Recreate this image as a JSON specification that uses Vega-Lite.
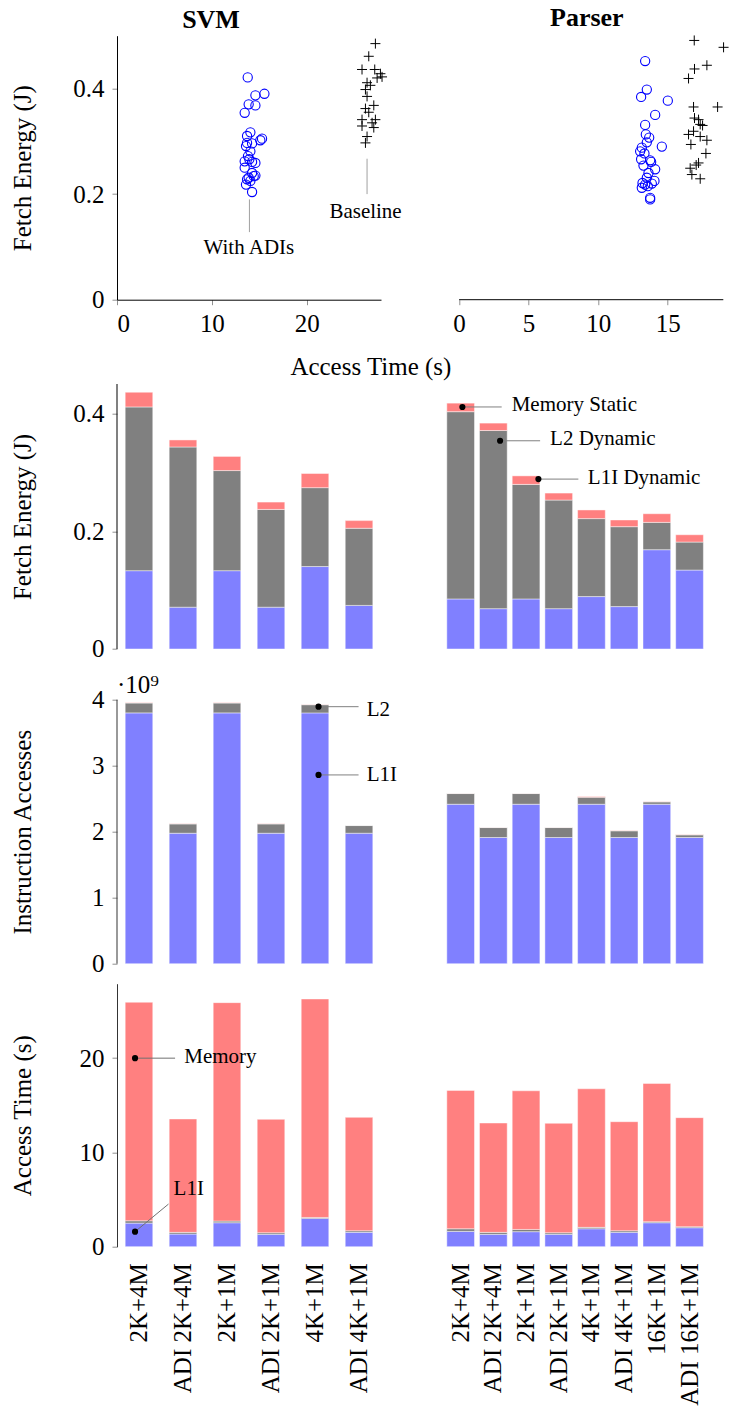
{
  "$schema": "https://vega.github.io/schema/vega-lite/v6.json",
  "padding": {"left": 10, "top": 4.7, "right": 2, "bottom": 2},
  "config": {
    "font": "Liberation Serif",
    "view": {"stroke": null},
    "axis": {"labelFont": "Liberation Serif", "titleFont": "Liberation Serif", "labelFontSize": 25, "titleFontSize": 25, "titleFontWeight": "normal", "labelColor": "#000", "titleColor": "#000", "grid": false, "tickColor": "#909090", "domainColor": "#000", "tickSize": 5},
    "axisX": {"labelPadding": 7},
    "axisY": {"minExtent": 70, "maxExtent": 70, "titlePadding": 12, "labelPadding": 8},
    "title": {"font": "Liberation Serif", "fontSize": 26, "fontWeight": "bold", "color": "#000"},
    "text": {"font": "Liberation Serif", "fontSize": 21, "color": "#000"},
    "bar": {"stroke": "#ffffff", "strokeOpacity": 0.45, "strokeWidth": 1}
  },
  "datasets": {
    "scatter": [
      {"bench":"SVM","kind":"ADI","time":13.78,"energy":0.421},{"bench":"SVM","kind":"ADI","time":13.46,"energy":0.354},{"bench":"SVM","kind":"ADI","time":13.88,"energy":0.370},{"bench":"SVM","kind":"ADI","time":14.59,"energy":0.368},{"bench":"SVM","kind":"ADI","time":14.59,"energy":0.387},{"bench":"SVM","kind":"ADI","time":15.54,"energy":0.390},{"bench":"SVM","kind":"ADI","time":14.06,"energy":0.317},{"bench":"SVM","kind":"ADI","time":13.71,"energy":0.310},{"bench":"SVM","kind":"ADI","time":15.29,"energy":0.305},{"bench":"SVM","kind":"ADI","time":15.11,"energy":0.302},{"bench":"SVM","kind":"ADI","time":13.71,"energy":0.297},{"bench":"SVM","kind":"ADI","time":14.24,"energy":0.296},{"bench":"SVM","kind":"ADI","time":13.60,"energy":0.291},{"bench":"SVM","kind":"ADI","time":14.06,"energy":0.281},{"bench":"SVM","kind":"ADI","time":13.81,"energy":0.272},{"bench":"SVM","kind":"ADI","time":13.46,"energy":0.262},{"bench":"SVM","kind":"ADI","time":13.95,"energy":0.266},{"bench":"SVM","kind":"ADI","time":14.59,"energy":0.259},{"bench":"SVM","kind":"ADI","time":14.24,"energy":0.261},{"bench":"SVM","kind":"ADI","time":13.46,"energy":0.250},{"bench":"SVM","kind":"ADI","time":14.24,"energy":0.240},{"bench":"SVM","kind":"ADI","time":14.59,"energy":0.235},{"bench":"SVM","kind":"ADI","time":13.71,"energy":0.228},{"bench":"SVM","kind":"ADI","time":14.06,"energy":0.225},{"bench":"SVM","kind":"ADI","time":13.60,"energy":0.218},{"bench":"SVM","kind":"ADI","time":14.24,"energy":0.204},{"bench":"SVM","kind":"ADI","time":14.41,"energy":0.234},{"bench":"SVM","kind":"ADI","time":13.88,"energy":0.231},
      {"bench":"SVM","kind":"Baseline","time":27.24,"energy":0.485},{"bench":"SVM","kind":"Baseline","time":26.54,"energy":0.461},{"bench":"SVM","kind":"Baseline","time":25.83,"energy":0.436},{"bench":"SVM","kind":"Baseline","time":27.17,"energy":0.436},{"bench":"SVM","kind":"Baseline","time":27.77,"energy":0.428},{"bench":"SVM","kind":"Baseline","time":27.94,"energy":0.422},{"bench":"SVM","kind":"Baseline","time":27.42,"energy":0.420},{"bench":"SVM","kind":"Baseline","time":26.36,"energy":0.411},{"bench":"SVM","kind":"Baseline","time":26.71,"energy":0.406},{"bench":"SVM","kind":"Baseline","time":26.19,"energy":0.398},{"bench":"SVM","kind":"Baseline","time":26.36,"energy":0.385},{"bench":"SVM","kind":"Baseline","time":27.07,"energy":0.368},{"bench":"SVM","kind":"Baseline","time":26.19,"energy":0.362},{"bench":"SVM","kind":"Baseline","time":26.54,"energy":0.355},{"bench":"SVM","kind":"Baseline","time":25.83,"energy":0.341},{"bench":"SVM","kind":"Baseline","time":27.24,"energy":0.341},{"bench":"SVM","kind":"Baseline","time":26.89,"energy":0.335},{"bench":"SVM","kind":"Baseline","time":25.83,"energy":0.329},{"bench":"SVM","kind":"Baseline","time":27.07,"energy":0.326},{"bench":"SVM","kind":"Baseline","time":26.36,"energy":0.309},{"bench":"SVM","kind":"Baseline","time":26.19,"energy":0.297},
      {"bench":"Parser","kind":"ADI","time":13.38,"energy":0.452},{"bench":"Parser","kind":"ADI","time":13.50,"energy":0.398},{"bench":"Parser","kind":"ADI","time":13.09,"energy":0.384},{"bench":"Parser","kind":"ADI","time":15.01,"energy":0.377},{"bench":"Parser","kind":"ADI","time":14.10,"energy":0.350},{"bench":"Parser","kind":"ADI","time":13.38,"energy":0.331},{"bench":"Parser","kind":"ADI","time":13.43,"energy":0.313},{"bench":"Parser","kind":"ADI","time":13.67,"energy":0.307},{"bench":"Parser","kind":"ADI","time":13.50,"energy":0.298},{"bench":"Parser","kind":"ADI","time":14.58,"energy":0.290},{"bench":"Parser","kind":"ADI","time":13.14,"energy":0.288},{"bench":"Parser","kind":"ADI","time":13.02,"energy":0.281},{"bench":"Parser","kind":"ADI","time":13.33,"energy":0.277},{"bench":"Parser","kind":"ADI","time":13.09,"energy":0.266},{"bench":"Parser","kind":"ADI","time":13.74,"energy":0.264},{"bench":"Parser","kind":"ADI","time":13.81,"energy":0.261},{"bench":"Parser","kind":"ADI","time":13.26,"energy":0.254},{"bench":"Parser","kind":"ADI","time":14.10,"energy":0.247},{"bench":"Parser","kind":"ADI","time":13.62,"energy":0.240},{"bench":"Parser","kind":"ADI","time":13.50,"energy":0.231},{"bench":"Parser","kind":"ADI","time":14.05,"energy":0.225},{"bench":"Parser","kind":"ADI","time":13.19,"energy":0.221},{"bench":"Parser","kind":"ADI","time":13.38,"energy":0.218},{"bench":"Parser","kind":"ADI","time":13.86,"energy":0.220},{"bench":"Parser","kind":"ADI","time":13.14,"energy":0.212},{"bench":"Parser","kind":"ADI","time":13.57,"energy":0.215},{"bench":"Parser","kind":"ADI","time":13.74,"energy":0.193},{"bench":"Parser","kind":"ADI","time":13.74,"energy":0.190},
      {"bench":"Parser","kind":"Baseline","time":16.91,"energy":0.491},{"bench":"Parser","kind":"Baseline","time":19.02,"energy":0.478},{"bench":"Parser","kind":"Baseline","time":17.82,"energy":0.444},{"bench":"Parser","kind":"Baseline","time":16.93,"energy":0.437},{"bench":"Parser","kind":"Baseline","time":16.50,"energy":0.419},{"bench":"Parser","kind":"Baseline","time":16.86,"energy":0.365},{"bench":"Parser","kind":"Baseline","time":18.59,"energy":0.365},{"bench":"Parser","kind":"Baseline","time":16.93,"energy":0.344},{"bench":"Parser","kind":"Baseline","time":17.22,"energy":0.341},{"bench":"Parser","kind":"Baseline","time":17.34,"energy":0.332},{"bench":"Parser","kind":"Baseline","time":17.51,"energy":0.330},{"bench":"Parser","kind":"Baseline","time":16.86,"energy":0.319},{"bench":"Parser","kind":"Baseline","time":16.50,"energy":0.313},{"bench":"Parser","kind":"Baseline","time":17.34,"energy":0.309},{"bench":"Parser","kind":"Baseline","time":17.82,"energy":0.302},{"bench":"Parser","kind":"Baseline","time":16.67,"energy":0.294},{"bench":"Parser","kind":"Baseline","time":17.75,"energy":0.277},{"bench":"Parser","kind":"Baseline","time":17.22,"energy":0.259},{"bench":"Parser","kind":"Baseline","time":17.05,"energy":0.255},{"bench":"Parser","kind":"Baseline","time":16.62,"energy":0.249},{"bench":"Parser","kind":"Baseline","time":16.74,"energy":0.237},{"bench":"Parser","kind":"Baseline","time":17.34,"energy":0.229}
    ],
    "energy": [
      {"bench":"SVM","config":"2K+4M","L1I":0.133,"L2":0.278,"Memory":0.025},
      {"bench":"SVM","config":"ADI 2K+4M","L1I":0.071,"L2":0.272,"Memory":0.012},
      {"bench":"SVM","config":"2K+1M","L1I":0.133,"L2":0.170,"Memory":0.024},
      {"bench":"SVM","config":"ADI 2K+1M","L1I":0.071,"L2":0.166,"Memory":0.0125},
      {"bench":"SVM","config":"4K+1M","L1I":0.140,"L2":0.134,"Memory":0.024},
      {"bench":"SVM","config":"ADI 4K+1M","L1I":0.074,"L2":0.131,"Memory":0.013},
      {"bench":"Parser","config":"2K+4M","L1I":0.085,"L2":0.318,"Memory":0.0145},
      {"bench":"Parser","config":"ADI 2K+4M","L1I":0.0685,"L2":0.3025,"Memory":0.0126},
      {"bench":"Parser","config":"2K+1M","L1I":0.085,"L2":0.1945,"Memory":0.0145},
      {"bench":"Parser","config":"ADI 2K+1M","L1I":0.0685,"L2":0.1844,"Memory":0.0119},
      {"bench":"Parser","config":"4K+1M","L1I":0.089,"L2":0.1324,"Memory":0.0147},
      {"bench":"Parser","config":"ADI 4K+1M","L1I":0.072,"L2":0.1357,"Memory":0.0114},
      {"bench":"Parser","config":"16K+1M","L1I":0.1686,"L2":0.0464,"Memory":0.0147},
      {"bench":"Parser","config":"ADI 16K+1M","L1I":0.134,"L2":0.0476,"Memory":0.0124}
    ],
    "accesses": [
      {"bench":"SVM","config":"2K+4M","L1I":3800000000,"L2":150000000,"Memory":5000000},
      {"bench":"SVM","config":"ADI 2K+4M","L1I":1977000000,"L2":141000000,"Memory":4000000},
      {"bench":"SVM","config":"2K+1M","L1I":3800000000,"L2":150000000,"Memory":5000000},
      {"bench":"SVM","config":"ADI 2K+1M","L1I":1977000000,"L2":141000000,"Memory":4000000},
      {"bench":"SVM","config":"4K+1M","L1I":3800000000,"L2":124000000,"Memory":3000000},
      {"bench":"SVM","config":"ADI 4K+1M","L1I":1977000000,"L2":116000000,"Memory":2000000},
      {"bench":"Parser","config":"2K+4M","L1I":2416000000,"L2":162000000,"Memory":2000000},
      {"bench":"Parser","config":"ADI 2K+4M","L1I":1912000000,"L2":151000000,"Memory":2000000},
      {"bench":"Parser","config":"2K+1M","L1I":2416000000,"L2":162000000,"Memory":2000000},
      {"bench":"Parser","config":"ADI 2K+1M","L1I":1912000000,"L2":151000000,"Memory":2000000},
      {"bench":"Parser","config":"4K+1M","L1I":2416000000,"L2":106000000,"Memory":10000000},
      {"bench":"Parser","config":"ADI 4K+1M","L1I":1912000000,"L2":101000000,"Memory":5000000},
      {"bench":"Parser","config":"16K+1M","L1I":2416000000,"L2":36000000,"Memory":4000000},
      {"bench":"Parser","config":"ADI 16K+1M","L1I":1912000000,"L2":40000000,"Memory":5000000}
    ],
    "time": [
      {"bench":"SVM","config":"2K+4M","L1I":2.50,"L2":0.25,"Memory":23.18},
      {"bench":"SVM","config":"ADI 2K+4M","L1I":1.34,"L2":0.18,"Memory":12.03},
      {"bench":"SVM","config":"2K+1M","L1I":2.54,"L2":0.18,"Memory":23.17},
      {"bench":"SVM","config":"ADI 2K+1M","L1I":1.31,"L2":0.17,"Memory":12.03},
      {"bench":"SVM","config":"4K+1M","L1I":3.00,"L2":0.10,"Memory":23.18},
      {"bench":"SVM","config":"ADI 4K+1M","L1I":1.52,"L2":0.17,"Memory":12.03},
      {"bench":"Parser","config":"2K+4M","L1I":1.62,"L2":0.28,"Memory":14.68},
      {"bench":"Parser","config":"ADI 2K+4M","L1I":1.31,"L2":0.21,"Memory":11.60},
      {"bench":"Parser","config":"2K+1M","L1I":1.59,"L2":0.24,"Memory":14.71},
      {"bench":"Parser","config":"ADI 2K+1M","L1I":1.31,"L2":0.17,"Memory":11.61},
      {"bench":"Parser","config":"4K+1M","L1I":1.90,"L2":0.15,"Memory":14.70},
      {"bench":"Parser","config":"ADI 4K+1M","L1I":1.52,"L2":0.17,"Memory":11.57},
      {"bench":"Parser","config":"16K+1M","L1I":2.54,"L2":0.11,"Memory":14.67},
      {"bench":"Parser","config":"ADI 16K+1M","L1I":2.01,"L2":0.11,"Memory":11.57}
    ],
    "notes": [
      {"panel":"scatter-SVM","x":13.96,"y":0.19,"x2":13.96,"y2":0.128,"tx":13.9,"ty":0.0985,"label":"With ADIs"},
      {"panel":"scatter-SVM","x":26.36,"y":0.267,"x2":26.36,"y2":0.2,"tx":26.2,"ty":0.1667,"label":"Baseline"},
      {"panel":"energy-Parser","x":0.553,"y":0.411,"x2":1.755,"y2":0.411,"tx":2.06,"ty":0.414,"label":"Memory Static"},
      {"panel":"energy-Parser","x":1.706,"y":0.3536,"x2":2.93,"y2":0.3536,"tx":3.235,"ty":0.356,"label":"L2 Dynamic"},
      {"panel":"energy-Parser","x":2.878,"y":0.2885,"x2":4.10,"y2":0.2885,"tx":4.39,"ty":0.291,"label":"L1I Dynamic"},
      {"panel":"acc-SVM","x":4.58,"y":3894000000,"x2":5.49,"y2":3894000000,"tx":5.675,"ty":3850000000,"label":"L2"},
      {"panel":"acc-SVM","x":4.58,"y":2860000000,"x2":5.49,"y2":2860000000,"tx":5.675,"ty":2860000000,"label":"L1I"},
      {"panel":"time-SVM","x":0.41,"y":20.0,"x2":1.32,"y2":20.0,"tx":1.53,"ty":20.1,"label":"Memory"},
      {"panel":"time-SVM","x":0.41,"y":1.59,"x2":1.17,"y2":4.52,"tx":1.286,"ty":6.1,"label":"L1I"}
    ]
  },
  "columns": 2,
  "spacing": {"row": 20, "column": 63.3},
  "bounds": "flush",
  "align": "each",
  "concat": [
    {
      "width": 264, "height": 264,
      "title": {"text": "SVM", "frame": "group", "dx": -38, "baseline": "alphabetic", "offset": -18.7},
      "layer": [
        {"data": {"name": "scatter"}, "transform": [{"filter": "datum.bench == 'SVM' && datum.kind == 'ADI'"}],
         "mark": {"type": "point", "shape": "circle", "filled": false, "stroke": "#0000ff", "strokeWidth": 1.1, "size": 85, "opacity": 1},
         "encoding": {
           "x": {"field": "time", "type": "quantitative", "scale": {"domain": [0, 27.83], "nice": false, "zero": false}, "axis": {"values": [0, 10, 20], "title": "Access Time (s)", "titleX": 253.4, "titleY": 75, "titleBaseline": "alphabetic", "titleAlign": "center"}},
           "y": {"field": "energy", "type": "quantitative", "scale": {"domain": [0, 0.5], "nice": false}, "axis": {"values": [0, 0.2, 0.4], "title": "Fetch Energy (J)", "labelExpr": "datum.value == 0 ? '0' : format(datum.value, '.1f')"}}
         }},
        {"data": {"name": "scatter"}, "transform": [{"filter": "datum.bench == 'SVM' && datum.kind == 'Baseline'"}],
         "mark": {"type": "point", "shape": "M-1,0H1M0,-1V1", "filled": false, "stroke": "#000", "strokeWidth": 1, "size": 100, "opacity": 1},
         "encoding": {
           "x": {"field": "time", "type": "quantitative", "scale": {"domain": [0, 27.83], "nice": false, "zero": false}},
           "y": {"field": "energy", "type": "quantitative", "scale": {"domain": [0, 0.5], "nice": false}}
         }},
        {"data": {"name": "notes"}, "transform": [{"filter": "datum.panel == 'scatter-SVM'"}],
         "mark": {"type": "rule", "color": "#a0a0a0", "strokeWidth": 1},
         "encoding": {
           "x": {"field": "x", "type": "quantitative", "scale": {"domain": [0, 27.83], "nice": false, "zero": false}},
           "y": {"field": "y", "type": "quantitative", "scale": {"domain": [0, 0.5], "nice": false}},
           "y2": {"field": "y2"}
         }},
        {"data": {"name": "notes"}, "transform": [{"filter": "datum.panel == 'scatter-SVM'"}],
         "mark": {"type": "text", "align": "center", "baseline": "middle", "fontSize": 21},
         "encoding": {
           "x": {"field": "tx", "type": "quantitative", "scale": {"domain": [0, 27.83], "nice": false, "zero": false}},
           "y": {"field": "ty", "type": "quantitative", "scale": {"domain": [0, 0.5], "nice": false}},
           "text": {"field": "label"}
         }}
      ]
    },
    {
      "width": 279, "height": 264,
      "title": {"text": "Parser", "frame": "group", "dx": 3, "baseline": "alphabetic", "offset": -18.7},
      "layer": [
        {"data": {"name": "scatter"}, "transform": [{"filter": "datum.bench == 'Parser' && datum.kind == 'ADI'"}],
         "mark": {"type": "point", "shape": "circle", "filled": false, "stroke": "#0000ff", "strokeWidth": 1.1, "size": 85, "opacity": 1},
         "encoding": {
           "x": {"field": "time", "type": "quantitative", "scale": {"domain": [-1.064, 19], "nice": false, "zero": false}, "axis": {"values": [0, 5, 10, 15], "domain": false, "title": null}},
           "y": {"field": "energy", "type": "quantitative", "scale": {"domain": [0, 0.5], "nice": false}, "axis": null}
         }},
        {"data": {"name": "scatter"}, "transform": [{"filter": "datum.bench == 'Parser' && datum.kind == 'Baseline'"}],
         "mark": {"type": "point", "shape": "M-1,0H1M0,-1V1", "filled": false, "stroke": "#000", "strokeWidth": 1, "size": 100, "opacity": 1},
         "encoding": {
           "x": {"field": "time", "type": "quantitative", "scale": {"domain": [-1.064, 19], "nice": false, "zero": false}},
           "y": {"field": "energy", "type": "quantitative", "scale": {"domain": [0, 0.5], "nice": false}, "axis": null}
         }},
        {"data": {"values": [{"label": "x axis"}]},
         "mark": {"type": "rule", "color": "#000", "strokeWidth": 1},
         "encoding": {
           "x": {"datum": 0, "type": "quantitative", "scale": {"domain": [-1.064, 19], "nice": false, "zero": false}},
           "x2": {"datum": 19},
           "y": {"datum": 0, "type": "quantitative", "scale": {"domain": [0, 0.5], "nice": false}, "axis": null}
         }}
      ]
    },
    {
      "width": 264, "height": 329.3,
      "resolve": {"scale": {"x": "independent"}},
      "layer": [
        {"data": {"name": "energy"}, "transform": [{"filter": "datum.bench == 'SVM'"}, {"fold": ["L1I", "L2", "Memory"], "as": ["part", "value"]}],
         "mark": {"type": "bar"},
         "encoding": {
           "x": {"field": "config", "type": "nominal", "scale": {"domain": ["2K+4M", "ADI 2K+4M", "2K+1M", "ADI 2K+1M", "4K+1M", "ADI 4K+1M"], "paddingInner": 0.373, "paddingOuter": 0.186}, "axis": null},
           "y": {"field": "value", "type": "quantitative", "stack": "zero", "scale": {"domain": [0, 0.5592], "nice": false}, "axis": {"values": [0, 0.2, 0.4], "domain": false, "title": "Fetch Energy (J)", "titleY": 196.8, "labelExpr": "datum.value == 0 ? '0' : format(datum.value, '.1f')"}},
           "color": {"field": "part", "type": "nominal", "scale": {"domain": ["L1I", "L2", "Memory"], "range": ["#8080ff", "#808080", "#ff8080"]}, "legend": null},
           "order": {"field": "part", "type": "ordinal"}
         }},
        {"data": {"values": [{"label": "y axis"}]},
         "mark": {"type": "rule", "color": "#000", "strokeWidth": 1},
         "encoding": {
           "x": {"datum": 0, "type": "quantitative", "scale": {"domain": [0, 6], "nice": false, "zero": false}, "axis": null},
           "y": {"datum": 0, "type": "quantitative", "scale": {"domain": [0, 0.5592], "nice": false}},
           "y2": {"datum": 0.45}
         }}
      ]
    },
    {
      "width": 261.6, "height": 329.3,
      "resolve": {"scale": {"x": "independent"}},
      "layer": [
        {"data": {"name": "energy"}, "transform": [{"filter": "datum.bench == 'Parser'"}, {"fold": ["L1I", "L2", "Memory"], "as": ["part", "value"]}],
         "mark": {"type": "bar"},
         "encoding": {
           "x": {"field": "config", "type": "nominal", "scale": {"domain": ["2K+4M", "ADI 2K+4M", "2K+1M", "ADI 2K+1M", "4K+1M", "ADI 4K+1M", "16K+1M", "ADI 16K+1M"], "paddingInner": 0.153, "paddingOuter": 0.0765}, "axis": null},
           "y": {"field": "value", "type": "quantitative", "stack": "zero", "scale": {"domain": [0, 0.5592], "nice": false}, "axis": null},
           "color": {"field": "part", "type": "nominal", "scale": {"domain": ["L1I", "L2", "Memory"], "range": ["#8080ff", "#808080", "#ff8080"]}, "legend": null},
           "order": {"field": "part", "type": "ordinal"}
         }},
        {"data": {"name": "notes"}, "transform": [{"filter": "datum.panel == 'energy-Parser'"}],
         "mark": {"type": "rule", "color": "#808080", "strokeWidth": 1},
         "encoding": {
           "x": {"field": "x", "type": "quantitative", "scale": {"domain": [0, 8], "nice": false, "zero": false}, "axis": null},
           "x2": {"field": "x2"},
           "y": {"field": "y", "type": "quantitative", "scale": {"domain": [0, 0.5592], "nice": false}, "axis": null},
           "y2": {"field": "y2"}
         }},
        {"data": {"name": "notes"}, "transform": [{"filter": "datum.panel == 'energy-Parser'"}],
         "mark": {"type": "point", "filled": true, "color": "#000", "size": 38, "opacity": 1},
         "encoding": {
           "x": {"field": "x", "type": "quantitative", "scale": {"domain": [0, 8], "nice": false, "zero": false}, "axis": null},
           "y": {"field": "y", "type": "quantitative", "scale": {"domain": [0, 0.5592], "nice": false}, "axis": null}
         }},
        {"data": {"name": "notes"}, "transform": [{"filter": "datum.panel == 'energy-Parser'"}],
         "mark": {"type": "text", "align": "left", "baseline": "middle", "fontSize": 21},
         "encoding": {
           "x": {"field": "tx", "type": "quantitative", "scale": {"domain": [0, 8], "nice": false, "zero": false}, "axis": null},
           "y": {"field": "ty", "type": "quantitative", "scale": {"domain": [0, 0.5592], "nice": false}, "axis": null},
           "text": {"field": "label"}
         }}
      ]
    },
    {
      "width": 264, "height": 294,
      "resolve": {"scale": {"x": "independent"}},
      "layer": [
        {"data": {"name": "accesses"}, "transform": [{"filter": "datum.bench == 'SVM'"}, {"fold": ["L1I", "L2", "Memory"], "as": ["part", "value"]}],
         "mark": {"type": "bar"},
         "encoding": {
           "x": {"field": "config", "type": "nominal", "scale": {"domain": ["2K+4M", "ADI 2K+4M", "2K+1M", "ADI 2K+1M", "4K+1M", "ADI 4K+1M"], "paddingInner": 0.373, "paddingOuter": 0.186}, "axis": null},
           "y": {"field": "value", "type": "quantitative", "stack": "zero", "scale": {"domain": [0, 4454500000], "nice": false}, "axis": {"values": [0, 1000000000, 2000000000, 3000000000, 4000000000], "domain": false, "title": "Instruction Accesses", "titleY": 162, "labelExpr": "format(datum.value / 1000000000, 'd')"}},
           "color": {"field": "part", "type": "nominal", "scale": {"domain": ["L1I", "L2", "Memory"], "range": ["#8080ff", "#808080", "#ff8080"]}, "legend": null},
           "order": {"field": "part", "type": "ordinal"}
         }},
        {"data": {"values": [{"label": "y axis"}]},
         "mark": {"type": "rule", "color": "#333", "strokeWidth": 1},
         "encoding": {
           "x": {"datum": 0, "type": "quantitative", "scale": {"domain": [0, 6], "nice": false, "zero": false}, "axis": null},
           "y": {"datum": 0, "type": "quantitative", "scale": {"domain": [0, 4454500000], "nice": false}},
           "y2": {"datum": 4000000000}
         }},
        {"data": {"values": [{"label": "·10⁹"}]},
         "mark": {"type": "text", "align": "left", "baseline": "alphabetic", "fontSize": 25, "dy": -7},
         "encoding": {
           "x": {"datum": 0, "type": "quantitative", "scale": {"domain": [0, 6], "nice": false, "zero": false}, "axis": null},
           "y": {"datum": 4000000000, "type": "quantitative", "scale": {"domain": [0, 4454500000], "nice": false}},
           "text": {"field": "label"}
         }},
        {"data": {"name": "notes"}, "transform": [{"filter": "datum.panel == 'acc-SVM'"}],
         "mark": {"type": "rule", "color": "#808080", "strokeWidth": 1},
         "encoding": {
           "x": {"field": "x", "type": "quantitative", "scale": {"domain": [0, 6], "nice": false, "zero": false}, "axis": null},
           "x2": {"field": "x2"},
           "y": {"field": "y", "type": "quantitative", "scale": {"domain": [0, 4454500000], "nice": false}},
           "y2": {"field": "y2"}
         }},
        {"data": {"name": "notes"}, "transform": [{"filter": "datum.panel == 'acc-SVM'"}],
         "mark": {"type": "point", "filled": true, "color": "#000", "size": 38, "opacity": 1},
         "encoding": {
           "x": {"field": "x", "type": "quantitative", "scale": {"domain": [0, 6], "nice": false, "zero": false}, "axis": null},
           "y": {"field": "y", "type": "quantitative", "scale": {"domain": [0, 4454500000], "nice": false}}
         }},
        {"data": {"name": "notes"}, "transform": [{"filter": "datum.panel == 'acc-SVM'"}],
         "mark": {"type": "text", "align": "left", "baseline": "middle", "fontSize": 21},
         "encoding": {
           "x": {"field": "tx", "type": "quantitative", "scale": {"domain": [0, 6], "nice": false, "zero": false}, "axis": null},
           "y": {"field": "ty", "type": "quantitative", "scale": {"domain": [0, 4454500000], "nice": false}},
           "text": {"field": "label"}
         }}
      ]
    },
    {
      "width": 261.6, "height": 294,
      "layer": [
        {"data": {"name": "accesses"}, "transform": [{"filter": "datum.bench == 'Parser'"}, {"fold": ["L1I", "L2", "Memory"], "as": ["part", "value"]}],
         "mark": {"type": "bar"},
         "encoding": {
           "x": {"field": "config", "type": "nominal", "scale": {"domain": ["2K+4M", "ADI 2K+4M", "2K+1M", "ADI 2K+1M", "4K+1M", "ADI 4K+1M", "16K+1M", "ADI 16K+1M"], "paddingInner": 0.153, "paddingOuter": 0.0765}, "axis": null},
           "y": {"field": "value", "type": "quantitative", "stack": "zero", "scale": {"domain": [0, 4454500000], "nice": false}, "axis": null},
           "color": {"field": "part", "type": "nominal", "scale": {"domain": ["L1I", "L2", "Memory"], "range": ["#8080ff", "#808080", "#ff8080"]}, "legend": null},
           "order": {"field": "part", "type": "ordinal"}
         }}
      ]
    },
    {
      "width": 264, "height": 263,
      "resolve": {"scale": {"x": "independent"}},
      "layer": [
        {"data": {"name": "time"}, "transform": [{"filter": "datum.bench == 'SVM'"}, {"fold": ["L1I", "L2", "Memory"], "as": ["part", "value"]}],
         "mark": {"type": "bar"},
         "encoding": {
           "x": {"field": "config", "type": "nominal", "scale": {"domain": ["2K+4M", "ADI 2K+4M", "2K+1M", "ADI 2K+1M", "4K+1M", "ADI 4K+1M"], "paddingInner": 0.373, "paddingOuter": 0.186}, "axis": {"title": null, "labelAngle": -90, "domain": false, "ticks": false, "tickSize": 0, "labelPadding": 16, "labelOverlap": false, "labelLimit": 300}},
           "y": {"field": "value", "type": "quantitative", "stack": "zero", "scale": {"domain": [0, 27.9], "nice": false}, "axis": {"values": [0, 10, 20], "title": "Access Time (s)", "domainColor": "#333"}},
           "color": {"field": "part", "type": "nominal", "scale": {"domain": ["L1I", "L2", "Memory"], "range": ["#8080ff", "#808080", "#ff8080"]}, "legend": null},
           "order": {"field": "part", "type": "ordinal"}
         }},
        {"data": {"name": "notes"}, "transform": [{"filter": "datum.panel == 'time-SVM'"}],
         "mark": {"type": "rule", "color": "#707070", "strokeWidth": 1},
         "encoding": {
           "x": {"field": "x", "type": "quantitative", "scale": {"domain": [0, 6], "nice": false, "zero": false}, "axis": null},
           "x2": {"field": "x2"},
           "y": {"field": "y", "type": "quantitative", "scale": {"domain": [0, 27.9], "nice": false}},
           "y2": {"field": "y2"}
         }},
        {"data": {"name": "notes"}, "transform": [{"filter": "datum.panel == 'time-SVM'"}],
         "mark": {"type": "point", "filled": true, "color": "#000", "size": 38, "opacity": 1},
         "encoding": {
           "x": {"field": "x", "type": "quantitative", "scale": {"domain": [0, 6], "nice": false, "zero": false}, "axis": null},
           "y": {"field": "y", "type": "quantitative", "scale": {"domain": [0, 27.9], "nice": false}}
         }},
        {"data": {"name": "notes"}, "transform": [{"filter": "datum.panel == 'time-SVM'"}],
         "mark": {"type": "text", "align": "left", "baseline": "middle", "fontSize": 21},
         "encoding": {
           "x": {"field": "tx", "type": "quantitative", "scale": {"domain": [0, 6], "nice": false, "zero": false}, "axis": null},
           "y": {"field": "ty", "type": "quantitative", "scale": {"domain": [0, 27.9], "nice": false}},
           "text": {"field": "label"}
         }}
      ]
    },
    {
      "width": 261.6, "height": 263,
      "layer": [
        {"data": {"name": "time"}, "transform": [{"filter": "datum.bench == 'Parser'"}, {"fold": ["L1I", "L2", "Memory"], "as": ["part", "value"]}],
         "mark": {"type": "bar"},
         "encoding": {
           "x": {"field": "config", "type": "nominal", "scale": {"domain": ["2K+4M", "ADI 2K+4M", "2K+1M", "ADI 2K+1M", "4K+1M", "ADI 4K+1M", "16K+1M", "ADI 16K+1M"], "paddingInner": 0.153, "paddingOuter": 0.0765}, "axis": {"title": null, "labelAngle": -90, "domain": false, "ticks": false, "tickSize": 0, "labelPadding": 16, "labelOverlap": false, "labelLimit": 300}},
           "y": {"field": "value", "type": "quantitative", "stack": "zero", "scale": {"domain": [0, 27.9], "nice": false}, "axis": null},
           "color": {"field": "part", "type": "nominal", "scale": {"domain": ["L1I", "L2", "Memory"], "range": ["#8080ff", "#808080", "#ff8080"]}, "legend": null},
           "order": {"field": "part", "type": "ordinal"}
         }}
      ]
    }
  ]
}
